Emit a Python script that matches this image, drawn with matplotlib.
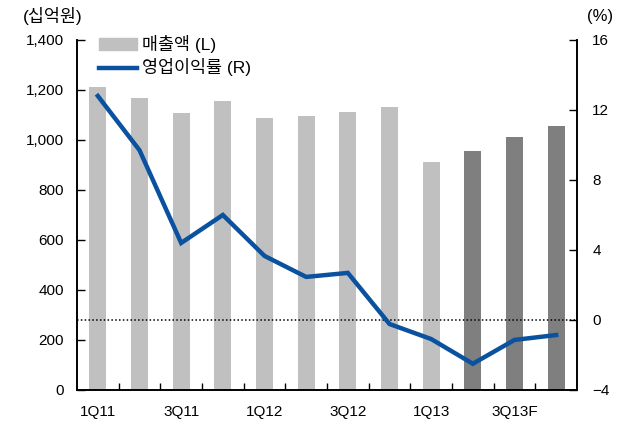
import matplotlib.pyplot as plt
import numpy as np

plt.rcParams['font.family'] = ['Liberation Sans', 'Noto Sans CJK KR']

quarters = ["1Q11", "2Q11", "3Q11", "4Q11", "1Q12", "2Q12", "3Q12", "4Q12",
            "1Q13", "2Q13", "3Q13F", "4Q13F"]
sales = [1212, 1168, 1108, 1156, 1088, 1096, 1112, 1132, 912, 956, 1012, 1056]
margin = [12.8, 9.7, 4.4, 6.0, 3.66, 2.46, 2.69, -0.23, -1.09, -2.5, -1.14, -0.86]
n_actual = 9  # 2Q13 부터 짙은 색

x = np.arange(len(quarters))
bar_colors = ["#c0c0c0"] * n_actual + ["#7f7f7f"] * (len(quarters) - n_actual)

fig = plt.figure(figsize=(6.24, 4.25), dpi=100)
ax = fig.add_axes([0.1234, 0.0824, 0.8013, 0.8236])
ax2 = ax.twinx()

ax.bar(x, sales, width=0.41, color=bar_colors, label="매출액 (L)", zorder=2)
ax2.plot(x, margin, color="#0a52a0", lw=3.2, label="영업이익률 (R)",
         solid_joinstyle="miter", zorder=3)
ax2.axhline(0, color="black", lw=1.1, ls=(0, (1, 1.5)), zorder=1)

ax.set_xlim(-0.5, len(quarters) - 0.5)
ax.set_ylim(0, 1400)
ax.set_yticks(range(0, 1401, 200))
ax.set_yticklabels([f"{v:,}" for v in range(0, 1401, 200)])
ax2.set_ylim(-4, 16)
ax2.set_yticks(range(-4, 17, 4))
ax2.set_yticklabels([str(v).replace("-", "\u2212") for v in range(-4, 17, 4)])

ax.set_xticks(x[::2])
ax.set_xticklabels(quarters[::2])
ax.set_xticks(np.arange(0.5, len(quarters) - 0.5, 1), minor=True)
ax.tick_params(axis="x", which="major", length=0, pad=11, labelsize=11)
ax.tick_params(axis="x", which="minor", direction="in", length=5, width=1)
ax.tick_params(axis="y", direction="in", length=6, width=1, labelsize=11, pad=9.5)
ax2.tick_params(axis="y", direction="in", length=6, width=1, labelsize=11, pad=11)

for a in (ax, ax2):
    a.spines["top"].set_visible(False)
    for s in ("left", "right", "bottom"):
        a.spines[s].set_linewidth(1.2)

fig.text(0.036, 0.962, "(십억원)", fontsize=12.5, ha="left", va="center")
fig.text(0.983, 0.962, "(%)", fontsize=12, ha="right", va="center")

h1, l1 = ax.get_legend_handles_labels()
h2, l2 = ax2.get_legend_handles_labels()
leg = ax2.legend(h1 + h2, l1 + l2, loc="upper left", bbox_to_anchor=(0.012, 1.058),
                 frameon=False, fontsize=12.5, handlelength=2.2, handleheight=0.65,
                 handletextpad=0.3, labelspacing=0.3)
leg.legend_handles[0].set_color("#c0c0c0")

fig.savefig("out.png", dpi=100)
